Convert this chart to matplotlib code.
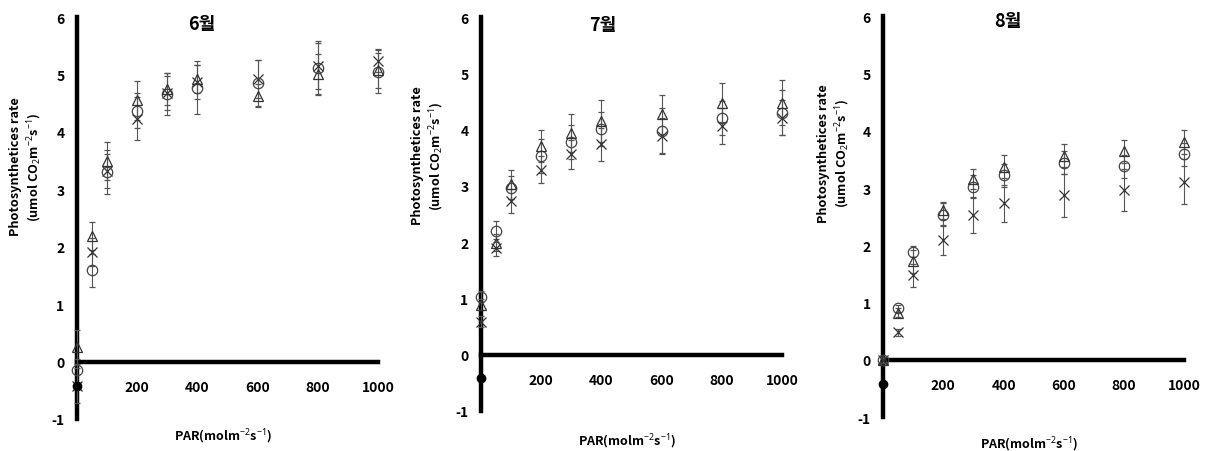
import matplotlib
matplotlib.use("Agg")
import matplotlib.pyplot as plt

plt.rcParams['font.family'] = ['Noto Sans CJK KR', 'DejaVu Sans']
plt.rcParams['font.weight'] = 'bold'
plt.rcParams['axes.unicode_minus'] = False
plt.rcParams['mathtext.fontset'] = 'custom'
plt.rcParams['mathtext.bf'] = 'Noto Sans:bold'
plt.rcParams['mathtext.rm'] = 'Noto Sans:bold'
plt.rcParams['mathtext.default'] = 'bf'

# PAR levels
par = [0, 50, 100, 200, 300, 400, 600, 800, 1000]
months = ["6월", "7월", "8월"]

# series (one list per month)
tri_jun = [0.25, 2.19, 3.50, 4.55, 4.75, 4.92, 4.63, 5.00, 5.07]
cir_jun = [-0.15, 1.59, 3.30, 4.37, 4.66, 4.77, 4.85, 5.12, 5.05]
crs_jun = [-0.42, 1.91, 3.32, 4.23, 4.68, 4.87, 4.92, 5.15, 5.24]
tri_err_jun = [0.30, 0.24, 0.33, 0.34, 0.28, 0.25, 0.20, 0.35, 0.30]
cir_err_jun = [0.20, 0.29, 0.38, 0.30, 0.36, 0.46, 0.40, 0.46, 0.37]
crs_err_jun = [0.30, 0.25, 0.30, 0.38, 0.30, 0.30, 0.33, 0.40, 0.20]

tri_jul = [0.89, 1.99, 3.03, 3.71, 3.94, 4.15, 4.27, 4.48, 4.48]
cir_jul = [1.03, 2.19, 2.97, 3.53, 3.78, 4.01, 3.98, 4.21, 4.30]
crs_jul = [0.59, 1.90, 2.73, 3.29, 3.56, 3.74, 3.89, 4.07, 4.21]
tri_err_jul = [0.10, 0.15, 0.26, 0.29, 0.34, 0.37, 0.35, 0.34, 0.40]
cir_err_jul = [0.10, 0.18, 0.20, 0.30, 0.30, 0.30, 0.40, 0.30, 0.40]
crs_err_jul = [0.10, 0.15, 0.21, 0.24, 0.26, 0.29, 0.32, 0.32, 0.31]

tri_aug = [0.00, 0.82, 1.72, 2.61, 3.16, 3.37, 3.56, 3.64, 3.81]
cir_aug = [0.00, 0.90, 1.89, 2.53, 3.02, 3.22, 3.44, 3.38, 3.59]
crs_aug = [0.00, 0.48, 1.48, 2.09, 2.53, 2.73, 2.87, 2.96, 3.11]
tri_err_aug = [0.05, 0.08, 0.20, 0.15, 0.18, 0.20, 0.20, 0.20, 0.21]
cir_err_aug = [0.05, 0.06, 0.09, 0.20, 0.20, 0.20, 0.20, 0.20, 0.20]
crs_err_aug = [0.05, 0.06, 0.20, 0.26, 0.32, 0.32, 0.37, 0.37, 0.39]

# dark dot sitting just under zero at PAR 0
dot_y = [-0.42, -0.42, -0.42]

tris = [tri_jun, tri_jul, tri_aug]
cirs = [cir_jun, cir_jul, cir_aug]
crss = [crs_jun, crs_jul, crs_aug]
tri_errs = [tri_err_jun, tri_err_jul, tri_err_aug]
cir_errs = [cir_err_jun, cir_err_jul, cir_err_aug]
crs_errs = [crs_err_jun, crs_err_jul, crs_err_aug]

fig = plt.figure(figsize=(12.1, 4.52), dpi=100)

# [left, bottom, width, height] in figure fractions
boxes = [[0.0636, 0.071, 0.249, 0.889],
         [0.3975, 0.0885, 0.249, 0.8715],
         [0.7298, 0.075, 0.249, 0.887]]
ylab_pos = [(-0.168, 0.63), (-0.175, 0.65), (-0.162, 0.66)]
xlab_y = [-0.042, -0.076, -0.067]
title_pos = [(0.415, 0.983), (0.405, 0.982), (0.415, 0.99)]

gray = "#555555"

for i in range(3):
    ax = fig.add_axes(boxes[i])

    ax.errorbar(par, crss[i], yerr=crs_errs[i], fmt="x", color="#333333",
                ms=6.5, mew=0.9, ecolor=gray, elinewidth=0.8, capsize=2.5,
                clip_on=False, zorder=3)
    ax.errorbar(par, cirs[i], yerr=cir_errs[i], fmt="o", mfc="none",
                mec="#444444", ms=7.5, mew=0.9, ecolor=gray, elinewidth=0.8,
                capsize=2.5, clip_on=False, zorder=3)
    ax.errorbar(par, tris[i], yerr=tri_errs[i], fmt="^", mfc="none",
                mec="#333333", ms=7.5, mew=0.9, ecolor=gray, elinewidth=0.8,
                capsize=2.5, clip_on=False, zorder=3)
    ax.plot([0], [dot_y[i]], "o", color="black", ms=6, clip_on=False, zorder=4)

    ax.set_xlim(0, 1000)
    ax.set_ylim(-1, 6)

    ax.spines['left'].set_position(('data', 0))
    ax.spines['bottom'].set_position(('data', 0))
    ax.spines['left'].set_linewidth(3.2)
    ax.spines['bottom'].set_linewidth(3.2)
    ax.spines['top'].set_visible(False)
    ax.spines['right'].set_visible(False)

    ax.set_xticks([200, 400, 600, 800, 1000])
    ax.set_yticks(range(-1, 7))
    ax.tick_params(axis='both', length=0, labelsize=10)
    ax.tick_params(axis='x', pad=13)
    ax.tick_params(axis='y', pad=9)
    for lab in ax.get_xticklabels() + ax.get_yticklabels():
        lab.set_fontweight('bold')

    ax.text(title_pos[i][0], title_pos[i][1], months[i], transform=ax.transAxes,
            ha='center', va='center', fontsize=13, fontweight='bold')
    ax.text(ylab_pos[i][0], ylab_pos[i][1],
            "Photosynthetices rate\n(umol CO$_2$m$^{-2}$s$^{-1}$)",
            transform=ax.transAxes, rotation=90, ha='center', va='center',
            fontsize=9.2, fontweight='bold', linespacing=1.25)
    ax.text(0.485, xlab_y[i], "PAR(molm$^{-2}$s$^{-1}$)", transform=ax.transAxes,
            ha='center', va='center', fontsize=9, fontweight='bold')

fig.savefig("out.png", dpi=100)
